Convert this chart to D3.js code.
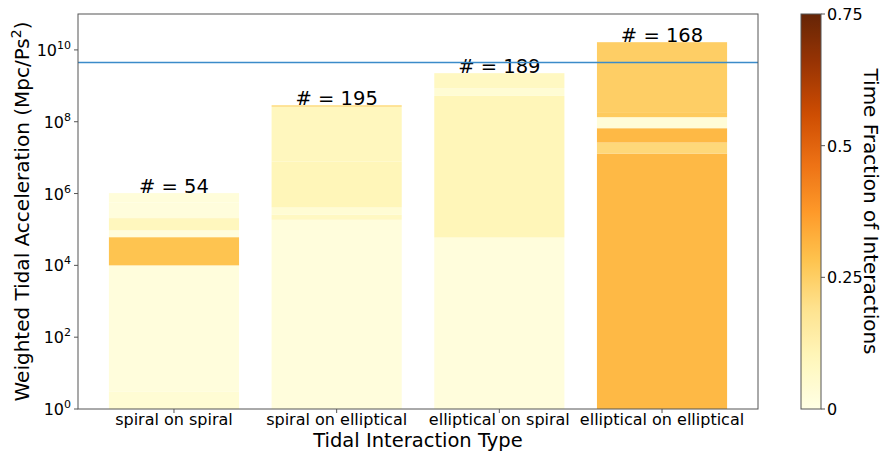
<!DOCTYPE html>
<html>
<head>
<meta charset="utf-8">
<script src="https://cdn.jsdelivr.net/npm/d3@7"></script>
<style>
  html, body { margin: 0; padding: 0; background: #fff; }
  svg { display: block; }
  text { font-family: "DejaVu Sans", sans-serif; fill: #000; }
</style>
</head>
<body>
<svg id="chart" width="883" height="452"></svg>
<script>
// ---------- DATA ----------
const categories = ["spiral on spiral", "spiral on elliptical", "elliptical on spiral", "elliptical on elliptical"];
const counts = [54, 195, 189, 168];

// band upper edges (bottom band starts at 1), bottom -> top
const edgesSpiralSpiral = [3.1, 1.0e4, 6.1e4, 9.4e4, 2.07e5, 5.6e5, 1.03e6];
const fracSpiralSpiral  = [0.04, 0.02, 0.28, 0.02, 0.09, 0.02, 0.025];

const edgesSpiralEll = [1.86e5, 2.56e5, 4.08e5, 7.8e6, 2.59e8, 2.89e8];
const fracSpiralEll  = [0.02, 0.08, 0.04, 0.10, 0.09, 0.20];

const edgesEllSpiral = [5.97e4, 5.25e8, 8.6e8, 2.25e9];
const fracEllSpiral  = [0.02, 0.10, 0.04, 0.08];

const edgesEllEll = [1.3e7, 2.63e7, 6.6e7, 1.34e8, 1.85e8, 1.64e10];
const fracEllEll  = [0.305, 0.22, 0.305, 0.03, 0.26, 0.25];

const thresholdValue = 4.7e9;

const yTickValues = [1e0, 1e2, 1e4, 1e6, 1e8, 1e10];
const cbarTicks = [0, 0.25, 0.5, 0.75];
const cbarTickLabels = ["0", "0.25", "0.5", "0.75"];

const ylOrBrColors = ["#ffffe5", "#fff7bc", "#fee391", "#fec44f", "#fe9929", "#ec7014", "#cc4c02", "#993404", "#662506"];

// ---------- LAYOUT ----------
const svg = d3.select("#chart");
const plot = { left: 78, right: 758, top: 14, bottom: 409 };
const cbar = { left: 801, right: 821, top: 14, bottom: 409 };

const x = d3.scaleLinear().domain([-0.59, 3.59]).range([plot.left, plot.right]);
const barWidth = 0.8;
const y = d3.scaleLog().domain([1, 1e11]).range([plot.bottom, plot.top]);

const cmax = 0.75;
const color = d3.scaleLinear()
  .domain(ylOrBrColors.map((_, i) => i / (ylOrBrColors.length - 1) * cmax))
  .range(ylOrBrColors)
  .interpolate(d3.interpolateRgb)
  .clamp(true);

const allEdges = [edgesSpiralSpiral, edgesSpiralEll, edgesEllSpiral, edgesEllEll];
const allFracs = [fracSpiralSpiral, fracSpiralEll, fracEllSpiral, fracEllEll];

// ---------- BARS ----------
const gBars = svg.append("g");
allEdges.forEach((edges, i) => {
  const fr = allFracs[i];
  const segs = edges.map((top, j) => ({ lo: j === 0 ? 1 : edges[j - 1], hi: top, f: fr[j] }));
  gBars.selectAll(null).data(segs).enter().append("rect")
    .attr("x", x(i - barWidth / 2))
    .attr("width", x(i + barWidth / 2) - x(i - barWidth / 2))
    .attr("y", d => y(d.hi))
    .attr("height", d => y(d.lo) - y(d.hi))
    .attr("fill", d => color(d.f));
  svg.append("text")
    .attr("x", x(i))
    .attr("y", y(edges[edges.length - 1]))
    .attr("text-anchor", "middle")
    .style("font-size", "19.5px")
    .text("# = " + counts[i]);
});

// threshold line
const ty = Math.round(y(thresholdValue)) + 0.5;
svg.append("line")
  .attr("x1", plot.left).attr("x2", plot.right)
  .attr("y1", ty).attr("y2", ty)
  .attr("stroke", "#3b8bc9").attr("stroke-width", 1.5);

// ---------- AXES ----------
svg.append("rect")
  .attr("x", plot.left).attr("y", plot.top)
  .attr("width", plot.right - plot.left).attr("height", plot.bottom - plot.top)
  .attr("fill", "none").attr("stroke", "#555").attr("stroke-width", 1);

// y ticks
const gy = svg.append("g");
yTickValues.forEach(v => {
  const yy = y(v);
  gy.append("line").attr("x1", plot.left - 4).attr("x2", plot.left).attr("y1", yy).attr("y2", yy)
    .attr("stroke", "#555");
  const exp = Math.round(Math.log10(v));
  const t = gy.append("text").attr("x", plot.left - 7).attr("y", yy + 6)
    .attr("text-anchor", "end").style("font-size", "16px");
  t.append("tspan").text("10");
  t.append("tspan").attr("dy", -7).style("font-size", "11px").text(exp);
});

// x ticks
categories.forEach((c, i) => {
  svg.append("line").attr("x1", x(i)).attr("x2", x(i)).attr("y1", plot.bottom).attr("y2", plot.bottom + 4)
    .attr("stroke", "#555");
  svg.append("text").attr("x", x(i)).attr("y", 425)
    .attr("text-anchor", "middle").style("font-size", "16px").text(c);
});

// axis titles
svg.append("text").attr("x", (plot.left + plot.right) / 2).attr("y", 446.5)
  .attr("text-anchor", "middle").style("font-size", "19.5px").text("Tidal Interaction Type");

const yt = svg.append("text")
  .attr("transform", `translate(29,${(plot.top + plot.bottom) / 2}) rotate(-90)`)
  .attr("text-anchor", "middle").style("font-size", "20px");
yt.append("tspan").text("Weighted Tidal Acceleration (Mpc/Ps");
yt.append("tspan").attr("dy", -8).style("font-size", "14px").text("2");
yt.append("tspan").attr("dy", 8).text(")");

// ---------- COLORBAR ----------
const defs = svg.append("defs");
const grad = defs.append("linearGradient").attr("id", "cbgrad")
  .attr("x1", 0).attr("y1", 1).attr("x2", 0).attr("y2", 0);
d3.range(0, 1.0001, 0.02).forEach(t => {
  grad.append("stop").attr("offset", t).attr("stop-color", color(t * cmax));
});
svg.append("rect")
  .attr("x", cbar.left).attr("y", cbar.top)
  .attr("width", cbar.right - cbar.left).attr("height", cbar.bottom - cbar.top)
  .attr("fill", "url(#cbgrad)").attr("stroke", "#555").attr("stroke-width", 1);

const cy = d3.scaleLinear().domain([0, cmax]).range([cbar.bottom, cbar.top]);
cbarTicks.forEach((v, i) => {
  svg.append("line").attr("x1", cbar.right).attr("x2", cbar.right + 4)
    .attr("y1", cy(v)).attr("y2", cy(v)).attr("stroke", "#555");
  svg.append("text").attr("x", cbar.right + 6).attr("y", cy(v) + 6)
    .style("font-size", "16px").text(cbarTickLabels[i]);
});

svg.append("text")
  .attr("transform", `translate(864,${(cbar.top + cbar.bottom) / 2}) rotate(90)`)
  .attr("text-anchor", "middle").style("font-size", "20px").text("Time Fraction of Interactions");
</script>
</body>
</html>
